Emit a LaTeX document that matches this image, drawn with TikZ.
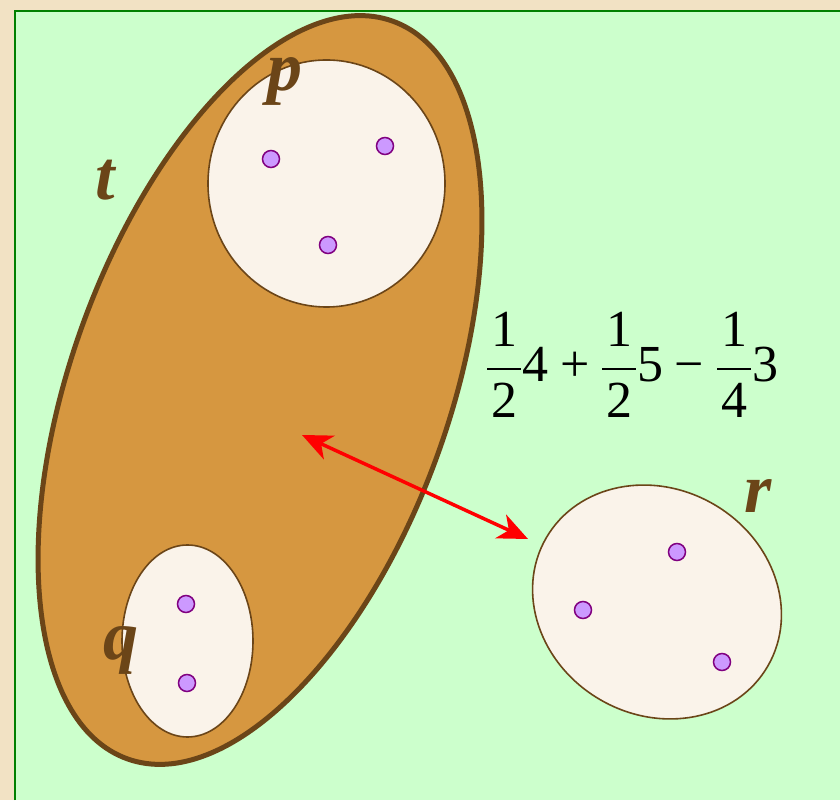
\RequirePackage{fix-cm}
\documentclass[tikz,border=0pt]{standalone}
\usepackage{amsmath}
\usepackage{fontspec}
\setmainfont{Liberation Serif}
\usepackage{tikz}
\usetikzlibrary{shapes.geometric,arrows.meta}
\definecolor{SetPaper}{HTML}{F2E2C4}
\definecolor{SetGreen}{HTML}{CCFFCC}
\definecolor{SetFrame}{HTML}{008000}
\definecolor{SetTan}{HTML}{D69740}
\definecolor{SetBrown}{HTML}{6B4518}
\definecolor{SetCream}{HTML}{FAF3EA}
\definecolor{SetDot}{HTML}{CC99FF}
\definecolor{SetDotLine}{HTML}{800080}
\newcommand\setfrac[2]{\genfrac{}{}{2.2pt}{0}{\text{\kern4pt#1\kern4pt}}{\text{\kern4pt#2\kern4pt}}}

\begin{document}
\begin{tikzpicture}[x=1pt,y=1pt,
  bigset/.style={ellipse,draw=SetBrown,fill=SetTan,line width=5pt,inner sep=0pt},
  subset/.style={ellipse,draw=SetBrown,fill=SetCream,line width=1.6pt,inner sep=0pt},
  elem/.style={circle,draw=SetDotLine,fill=SetDot,line width=1.5pt,minimum size=17pt,inner sep=0pt},
  setlabel/.style={anchor=base west,inner sep=0pt,text=SetBrown,font=\fontsize{70}{80}\selectfont\bfseries\itshape},
  link/.style={draw=red,line width=3.5pt,{Stealth[length=30pt,width=26pt,inset=9pt]}-{Stealth[length=30pt,width=26pt,inset=9pt]}}]
\path[use as bounding box] (0,0) rectangle (840,800);
\fill[SetPaper] (0,0) rectangle (840,800);
\fill[SetGreen] (15,0) rectangle (840,789);
\draw[SetFrame,line width=2pt] (15,0) -- (15,789) -- (840,789);
\node[bigset,rotate=70.2,minimum width=784pt,minimum height=378pt] (t) at (260,410) {};
\node[subset,minimum width=237pt,minimum height=247pt] (p) at (326.5,616.5) {};
\node[subset,minimum width=131pt,minimum height=192pt] (q) at (187.5,159) {};
\node[subset,rotate=-30,minimum width=256pt,minimum height=226pt] (r) at (657,198) {};
\node[elem] (p1) at (271,641) {};
\node[elem] (p2) at (385,654) {};
\node[elem] (p3) at (328,555) {};
\node[elem] (q1) at (186,196) {};
\node[elem] (q2) at (187,117) {};
\node[elem] (r1) at (677,248) {};
\node[elem] (r2) at (583,190) {};
\node[elem] (r3) at (722,138) {};
\node[setlabel] (tl) at (95,600) {t};
\node[setlabel] (pl) at (267,709) {p};
\node[setlabel] (ql) at (103,140) {q};
\node[setlabel] (rl) at (744,287) {r};
\coordinate (a1) at (302,365);
\coordinate (a2) at (528,261);
\draw[link] (a1) -- (a2);
\node[anchor=base west,inner sep=0pt,font=\fontsize{52}{60}\selectfont] (expr) at (486,418)
  {$\setfrac12\text{4}\mathbin{\text{+}}\setfrac12\text{5}\mathbin{\text{\char"2212}}\setfrac14\text{3}$};
\end{tikzpicture}
\end{document}
